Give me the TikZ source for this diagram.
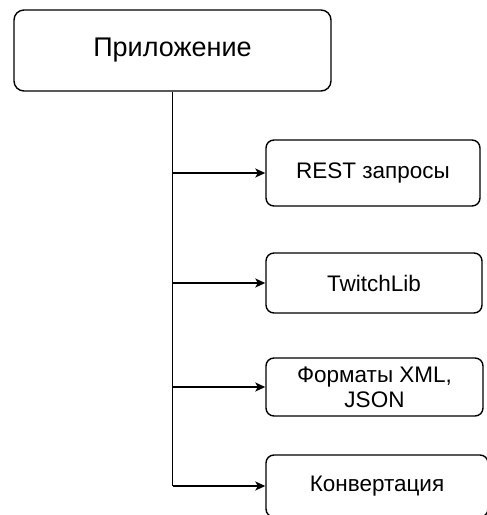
\documentclass[tikz,border=0pt]{standalone}
\usepackage{fontspec}
\setmainfont{Liberation Sans}
\usetikzlibrary{arrows.meta}
\begin{document}
\begin{tikzpicture}[x=1pt, y=-1pt,
    block/.style={draw, line width=1.4pt, rounded corners=8pt, align=center,
        inner sep=0pt, font=\fontsize{22.5}{25}\selectfont},
    link/.style={line width=1.5pt, -{Stealth[length=10pt, width=9pt, inset=2.5pt]}}]
        \useasboundingbox (0,0) rectangle (487,515);

        \node[block, minimum width=317pt, minimum height=81pt, rounded corners=10pt,
            font=\fontsize{27}{30}\selectfont] (app) at (172.5,50.5) {Приложение};

        \node[block, minimum width=214pt, minimum height=66pt] (rest) at (373,173) {REST запросы};
        \node[block, minimum width=216pt, minimum height=60pt] (twitch) at (374,283) {TwitchLib};
        \node[block, minimum width=217pt, minimum height=58pt] (formats) at (374.5,387) {Форматы XML,\\JSON};
        \node[block, minimum width=222pt, minimum height=62pt] (conv) at (377,486) {Конвертация};

        \draw[line width=1.5pt] (app.south) -- (app.south |- conv.west) coordinate (end);

        \foreach \n in {rest, twitch, formats, conv} {
                \draw[link] (app.south |- \n.west) -- (\n.west);
            }

    \end{tikzpicture}
\end{document}
